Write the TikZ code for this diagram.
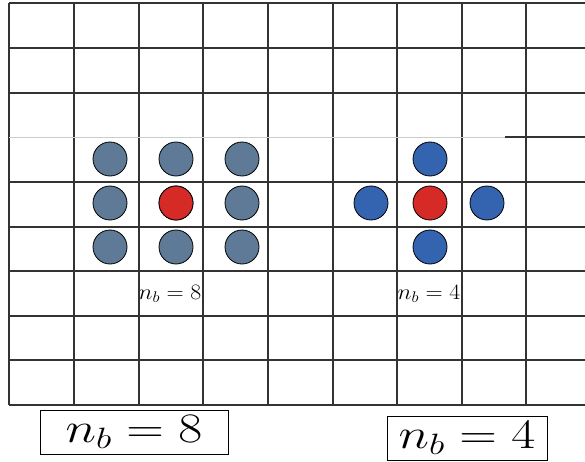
\RequirePackage{fix-cm}
\documentclass[tikz,border=0pt]{standalone}
\definecolor{slate}{RGB}{94,122,150}
\definecolor{hotred}{RGB}{214,42,38}
\definecolor{nbblue}{RGB}{52,99,176}
\newcommand{\widen}[2]{\scalebox{#1}[1]{#2}}
\tikzset{
  gridline/.style={line width=1.2pt,black!80},
  dot/.style={circle,draw=black,line width=0.8pt,minimum size=34pt,inner sep=0pt},
  smalllab/.style={font=\fontsize{22}{24}\selectfont,anchor=base,inner sep=0pt},
  bigbox/.style={draw,line width=0.8pt,inner sep=0pt,minimum height=44pt,font=\fontsize{42}{46}\selectfont}
}
\begin{document}
\begin{tikzpicture}[x=1pt,y=-1pt]
\useasboundingbox (0,0) rectangle (585,462);
% labels sit under the grid
\node[smalllab] (l-lab) at (170,299) {\widen{1.08}{$n_b=8$}};
\node[smalllab] (r-lab) at (429,299) {\widen{1.08}{$n_b=4$}};
% grid
\foreach \x in {9,74,139,203,268,333,397,462,526} {\draw[gridline] (\x,3)--(\x,405);}
\foreach \y in {3,48,93,182,227,271,316,360,405} {\draw[gridline] (9,\y)--(585,\y);}
\draw[black!20,line width=0.8pt] (9,137)--(505,137);
\draw[gridline] (505,137)--(585,137);
% eight neighbours
\begin{scope}
\foreach \i/\x in {1/110,2/176,3/242} {
  \foreach \j/\y in {1/159,2/203,3/247} {\node[dot,fill=slate] (l-\i-\j) at (\x,\y) {};}
}
\node[dot,fill=hotred] (l-c) at (176,203) {};
\end{scope}
% four neighbours
\begin{scope}
\node[dot,fill=nbblue] (r-n) at (430,159) {};
\node[dot,fill=nbblue] (r-w) at (371,203) {};
\node[dot,fill=hotred] (r-c) at (430,203) {};
\node[dot,fill=nbblue] (r-e) at (487,203) {};
\node[dot,fill=nbblue] (r-s) at (430,247) {};
\end{scope}
% captions
\node[bigbox,minimum width=188pt] (cap8) at (134,432) {\widen{1.24}{$n_b=8$}};
\node[bigbox,minimum width=160pt] (cap4) at (467,438) {\widen{1.24}{$n_b=4$}};
\end{tikzpicture}
\end{document}
